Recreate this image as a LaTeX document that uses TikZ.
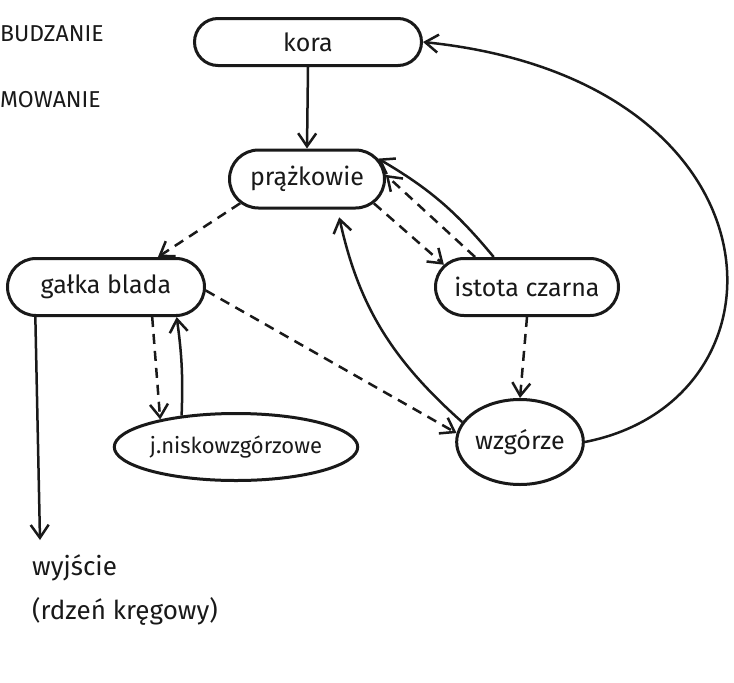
\documentclass[tikz,border=0pt]{standalone}
\usepackage{fontspec}
\setmainfont{Fira Sans}
\usetikzlibrary{arrows.meta,shapes.misc,shapes.geometric}
\begin{document}
\begin{tikzpicture}[x=1pt,y=-1pt,
  every node/.style={font=\fontsize{25}{32}\selectfont, text=black!90},
  box/.style={draw=black!90, line width=3pt, rounded rectangle, inner sep=0pt},
  oval/.style={draw=black!90, line width=3pt, ellipse, inner sep=0pt},
  exc/.style={draw=black!90, line width=2.5pt, -{Straight Barb[length=13pt,width=18pt,line width=2.5pt]}},
  inh/.style={exc, dash pattern=on 10pt off 7pt},
  legend/.style={font=\fontsize{23}{28}\selectfont, anchor=west, inner sep=0pt}]
\useasboundingbox (0,0) rectangle (734,683);
\fill[white] (0,0) rectangle (734,683);

\node[legend] (pob) at (0,34) {BUDZANIE};
\node[legend] (ham) at (0,100) {MOWANIE};

\node[box, minimum width=227pt, minimum height=47pt] (kora) at (308,42) {kora};
\node[box, minimum width=155pt, minimum height=58pt] (prazk) at (307,179) {prążkowie};
\node[box, minimum width=197pt, minimum height=57pt] (galka) at (106,287) {gałka blada};
\node[box, minimum width=183pt, minimum height=57pt] (istota) at (527,287) {istota czarna};
\node[oval, minimum width=198pt, minimum height=67pt, font=\fontsize{22}{28}\selectfont] (jnisko) at (236,447) {j.niskowzgórzowe};
\node[oval, minimum width=124pt, minimum height=85pt] (wzgorze) at (520,442) {wzgórze};
\node[anchor=north west, align=left, inner sep=0pt, font=\fontsize{26}{44}\selectfont] (wyj) at (32,554) {wyjście\\(rdzeń kręgowy)};
\coordinate (outend) at (40,540);

\draw[exc] (kora.south) -- (prazk.north);
\draw[inh] (prazk.200) -- (galka.30);
\draw[inh] (prazk.-20) -- (istota.165);
\draw[inh] (istota.150) -- (prazk.3);
\draw[exc] (istota.138) to[bend right=10] (prazk.16);
\draw[inh] (istota.south) -- (wzgorze.north);
\draw[inh] (galka.-2) -- (wzgorze.172);
\draw[inh] (galka.-33) -- (jnisko.160);
\draw[exc] (jnisko.150) to[bend right=5] (galka.-23);
\draw[exc, shorten >=8pt] (wzgorze.161) to[bend left=18] (prazk.-45);
\draw[exc] (wzgorze.east) .. controls (800,400) and (790,80) .. (kora.east);
\draw[exc] (galka.203) -- (outend);
\end{tikzpicture}
\end{document}
